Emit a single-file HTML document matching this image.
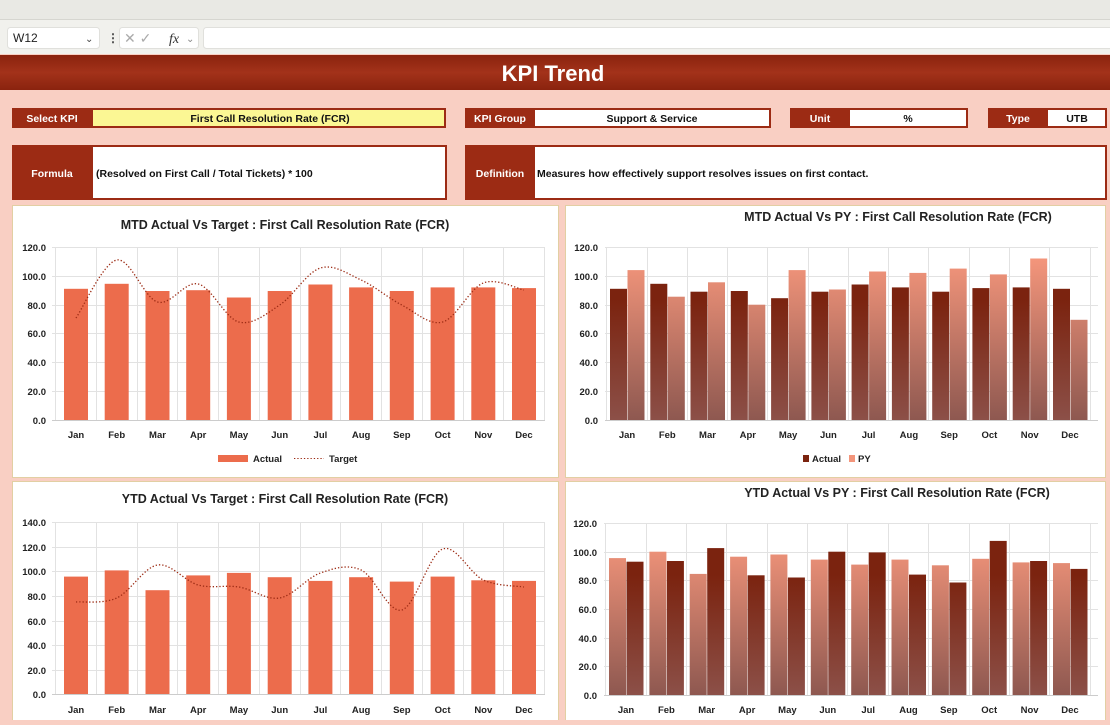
<!DOCTYPE html>
<html><head><meta charset="utf-8"><style>
body{margin:0;width:1110px;height:720px;overflow:hidden;font-family:"Liberation Sans",sans-serif;background:#f9cfc3}
</style></head><body>
<svg width="1110" height="720" xmlns="http://www.w3.org/2000/svg" font-family="Liberation Sans, sans-serif" font-weight="bold">
<defs>
<linearGradient id="tb" x1="0" y1="0" x2="0" y2="1"><stop offset="0" stop-color="#8a230e"/><stop offset="0.5" stop-color="#a3321a"/><stop offset="1" stop-color="#8a230e"/></linearGradient>
<linearGradient id="da" gradientUnits="userSpaceOnUse" x1="0" y1="300" x2="0" y2="420"><stop offset="0" stop-color="#7b230f"/><stop offset="1" stop-color="#8c5048"/></linearGradient>
<linearGradient id="pa" gradientUnits="userSpaceOnUse" x1="0" y1="260" x2="0" y2="420"><stop offset="0" stop-color="#f3957b"/><stop offset="1" stop-color="#8e5850"/></linearGradient>
<linearGradient id="db" gradientUnits="userSpaceOnUse" x1="0" y1="575" x2="0" y2="695"><stop offset="0" stop-color="#7b230f"/><stop offset="1" stop-color="#8c5048"/></linearGradient>
<linearGradient id="pb" gradientUnits="userSpaceOnUse" x1="0" y1="540" x2="0" y2="695"><stop offset="0" stop-color="#f3957b"/><stop offset="1" stop-color="#8e5850"/></linearGradient>
</defs>
<rect x="0" y="0" width="1110" height="19" fill="#e9e9e4"/>
<rect x="0" y="19" width="1110" height="35" fill="#f1f1ed"/>
<line x1="0" y1="19.5" x2="1110" y2="19.5" stroke="#d6d6d0"/>
<rect x="7.5" y="27.5" width="92" height="21" rx="3" fill="#fff" stroke="#e0e0dc"/>
<text x="13" y="42" font-size="12" font-weight="normal" fill="#222">W12</text>
<text x="85" y="42" font-size="10" font-weight="normal" fill="#444">⌄</text>
<text x="107" y="42" font-size="12" fill="#444">⋮</text>
<rect x="119.5" y="27.5" width="79" height="21" rx="3" fill="#fff" stroke="#e0e0dc"/>
<text x="124" y="43" font-size="14" font-weight="normal" fill="#aaa">✕ ✓</text>
<text x="169" y="43" font-size="14" font-style="italic" font-weight="normal" fill="#333" font-family="Liberation Serif, serif">fx</text>
<text x="186" y="42" font-size="10" font-weight="normal" fill="#888">⌄</text>
<rect x="203.5" y="27.5" width="910" height="21" rx="3" fill="#fff" stroke="#e0e0dc"/>
<rect x="0" y="55" width="1110" height="35" fill="url(#tb)"/>
<text x="553" y="81" font-size="22" fill="#fff" text-anchor="middle">KPI Trend</text>

<g font-size="10.5">
<rect x="12" y="108" width="434" height="20" fill="#9c2b14"/><rect x="93" y="110" width="351" height="16" fill="#fbf794"/>
<text x="52" y="122" fill="#fff" text-anchor="middle">Select KPI</text><text x="270" y="122" fill="#111" text-anchor="middle">First Call Resolution Rate (FCR)</text>
<rect x="465" y="108" width="306" height="20" fill="#9c2b14"/><rect x="535" y="110" width="234" height="16" fill="#fff"/>
<text x="500" y="122" fill="#fff" text-anchor="middle">KPI Group</text><text x="652" y="122" fill="#111" text-anchor="middle">Support &amp; Service</text>
<rect x="790" y="108" width="178" height="20" fill="#9c2b14"/><rect x="850" y="110" width="116" height="16" fill="#fff"/>
<text x="820" y="122" fill="#fff" text-anchor="middle">Unit</text><text x="908" y="122" fill="#111" text-anchor="middle">%</text>
<rect x="988" y="108" width="119" height="20" fill="#9c2b14"/><rect x="1048" y="110" width="57" height="16" fill="#fff"/>
<text x="1018" y="122" fill="#fff" text-anchor="middle">Type</text><text x="1077" y="122" fill="#111" text-anchor="middle">UTB</text>
<rect x="12" y="145" width="435" height="55" fill="#9c2b14"/><rect x="93" y="147" width="352" height="51" fill="#fff"/>
<text x="52" y="177" fill="#fff" text-anchor="middle">Formula</text><text x="96" y="177" fill="#111">(Resolved on First Call / Total Tickets) * 100</text>
<rect x="465" y="145" width="642" height="55" fill="#9c2b14"/><rect x="535" y="147" width="570" height="51" fill="#fff"/>
<text x="500" y="177" fill="#fff" text-anchor="middle">Definition</text><text x="537" y="177" fill="#111">Measures how effectively support resolves issues on first contact.</text>
</g>

<rect x="12.5" y="205.5" width="546" height="272" fill="#fff" stroke="#e2cfa3"/>
<rect x="565.5" y="205.5" width="540" height="272" fill="#fff" stroke="#e2cfa3"/>
<rect x="12.5" y="481.5" width="546" height="250" fill="#fff" stroke="#e2cfa3"/>
<rect x="565.5" y="481.5" width="540" height="250" fill="#fff" stroke="#e2cfa3"/>

<!-- TL -->
<text x="285" y="229" font-size="12.5" text-anchor="middle" fill="#222">MTD Actual Vs Target : First Call Resolution Rate (FCR)</text>
<g stroke="#e2e2e2" stroke-width="1">
<path d="M52 247.5H545M52 276.5H545M52 305.5H545M52 333.5H545M52 362.5H545M52 391.5H545"/>
<path d="M55.5 247V420M96.5 247V420M137.5 247V420M177.5 247V420M218.5 247V420M259.5 247V420M300.5 247V420M340.5 247V420M381.5 247V420M422.5 247V420M463.5 247V420M503.5 247V420M544.5 247V420"/>
</g>
<line x1="52" y1="420.5" x2="545" y2="420.5" stroke="#ccc"/>
<g font-size="9.5" text-anchor="end" fill="#222">
<text x="46" y="251">120.0</text><text x="46" y="280">100.0</text><text x="46" y="309">80.0</text><text x="46" y="337">60.0</text><text x="46" y="366">40.0</text><text x="46" y="395">20.0</text><text x="46" y="424">0.0</text></g>
<g fill="#ec6c4c">
<rect x="64" y="288.8" width="24" height="131.2"/><rect x="104.7" y="283.8" width="24" height="136.2"/><rect x="145.5" y="291" width="24" height="129"/><rect x="186.2" y="290.2" width="24" height="129.8"/><rect x="226.9" y="297.5" width="24" height="122.5"/><rect x="267.7" y="291" width="24" height="129"/><rect x="308.4" y="284.5" width="24" height="135.5"/><rect x="349.1" y="287.4" width="24" height="132.6"/><rect x="389.8" y="291" width="24" height="129"/><rect x="430.6" y="287.4" width="24" height="132.6"/><rect x="471.3" y="287.4" width="24" height="132.6"/><rect x="512" y="288.1" width="24" height="131.9"/></g>
<path d="M76 318C82.8 308.3 103.1 262.7 116.7 260C130.3 257.3 143.9 298 157.5 302C171.1 306 184.6 280.7 198.2 284C211.8 287.3 225.3 318.5 238.9 322C252.5 325.5 266.1 314 279.7 305C293.3 296 306.8 272.2 320.4 268C334 263.8 347.5 273.8 361.1 280C374.7 286.2 388.2 298 401.8 305C415.4 312 429 325.7 442.6 322C456.2 318.3 469.7 288.3 483.3 283C496.9 277.7 517.2 288.8 524 290" fill="none" stroke="#9c2b14" stroke-width="1.3" stroke-dasharray="1.3 2"/>
<g font-size="9.5" text-anchor="middle" fill="#222">
<text x="76" y="438">Jan</text><text x="116.7" y="438">Feb</text><text x="157.5" y="438">Mar</text><text x="198.2" y="438">Apr</text><text x="238.9" y="438">May</text><text x="279.7" y="438">Jun</text><text x="320.4" y="438">Jul</text><text x="361.1" y="438">Aug</text><text x="401.8" y="438">Sep</text><text x="442.6" y="438">Oct</text><text x="483.3" y="438">Nov</text><text x="524" y="438">Dec</text></g>
<rect x="218" y="455" width="30" height="7" fill="#ec6c4c"/><text x="253" y="462" font-size="9.5" fill="#222">Actual</text>
<line x1="294" y1="458.5" x2="324" y2="458.5" stroke="#9c2b14" stroke-dasharray="1.3 2"/><text x="329" y="462" font-size="9.5" fill="#222">Target</text>

<!-- TR -->
<text x="898" y="221" font-size="12.5" text-anchor="middle" fill="#222">MTD Actual Vs PY : First Call Resolution Rate (FCR)</text>
<g stroke="#e2e2e2">
<path d="M605 247.5H1098M605 276.5H1098M605 305.5H1098M605 333.5H1098M605 362.5H1098M605 391.5H1098"/>
<path d="M606.5 247V420M647.5 247V420M687.5 247V420M727.5 247V420M767.5 247V420M808.5 247V420M848.5 247V420M888.5 247V420M928.5 247V420M969.5 247V420M1009.5 247V420M1049.5 247V420M1090.5 247V420"/></g>
<line x1="605" y1="420.5" x2="1098" y2="420.5" stroke="#ccc"/>
<g font-size="9.5" text-anchor="end" fill="#222">
<text x="598" y="251">120.0</text><text x="598" y="280">100.0</text><text x="598" y="309">80.0</text><text x="598" y="337">60.0</text><text x="598" y="366">40.0</text><text x="598" y="395">20.0</text><text x="598" y="424">0.0</text></g>
<g fill="url(#da)">
<rect x="610" y="288.8" width="17" height="131.2"/><rect x="650.3" y="283.8" width="17" height="136.2"/><rect x="690.5" y="291.7" width="17" height="128.3"/><rect x="730.8" y="291" width="17" height="129"/><rect x="771.1" y="298.2" width="17" height="121.8"/><rect x="811.4" y="291.7" width="17" height="128.3"/><rect x="851.6" y="284.5" width="17" height="135.5"/><rect x="891.9" y="287.4" width="17" height="132.6"/><rect x="932.2" y="291.7" width="17" height="128.3"/><rect x="972.4" y="288.1" width="17" height="131.9"/><rect x="1012.7" y="287.4" width="17" height="132.6"/><rect x="1053" y="288.8" width="17" height="131.2"/></g>
<g fill="url(#pa)">
<rect x="627.5" y="270.1" width="17" height="149.9"/><rect x="667.8" y="296.7" width="17" height="123.3"/><rect x="708" y="282.3" width="17" height="137.7"/><rect x="748.3" y="304.7" width="17" height="115.3"/><rect x="788.6" y="270.1" width="17" height="149.9"/><rect x="828.9" y="289.5" width="17" height="130.5"/><rect x="869.1" y="271.5" width="17" height="148.5"/><rect x="909.4" y="272.9" width="17" height="147.1"/><rect x="949.7" y="268.6" width="17" height="151.4"/><rect x="989.9" y="274.4" width="17" height="145.6"/><rect x="1030.2" y="258.5" width="17" height="161.5"/><rect x="1070.5" y="319.8" width="17" height="100.2"/></g>
<g font-size="9.5" text-anchor="middle" fill="#222">
<text x="627" y="438">Jan</text><text x="667.3" y="438">Feb</text><text x="707.5" y="438">Mar</text><text x="747.8" y="438">Apr</text><text x="788.1" y="438">May</text><text x="828.4" y="438">Jun</text><text x="868.6" y="438">Jul</text><text x="908.9" y="438">Aug</text><text x="949.2" y="438">Sep</text><text x="989.4" y="438">Oct</text><text x="1029.7" y="438">Nov</text><text x="1070" y="438">Dec</text></g>
<rect x="803" y="455" width="6" height="7" fill="#7b230f"/><text x="812" y="462" font-size="9.5" fill="#222">Actual</text>
<rect x="849" y="455" width="6" height="7" fill="#f3957b"/><text x="858" y="462" font-size="9.5" fill="#222">PY</text>

<!-- BL -->
<text x="285" y="503" font-size="12.5" text-anchor="middle" fill="#222">YTD Actual Vs Target : First Call Resolution Rate (FCR)</text>
<g stroke="#e2e2e2">
<path d="M52 522.5H545M52 547.5H545M52 571.5H545M52 596.5H545M52 621.5H545M52 645.5H545M52 670.5H545"/>
<path d="M55.5 522V694M96.5 522V694M137.5 522V694M177.5 522V694M218.5 522V694M259.5 522V694M300.5 522V694M340.5 522V694M381.5 522V694M422.5 522V694M463.5 522V694M503.5 522V694M544.5 522V694"/></g>
<line x1="52" y1="694.5" x2="545" y2="694.5" stroke="#ccc"/>
<g font-size="9.5" text-anchor="end" fill="#222">
<text x="46" y="526">140.0</text><text x="46" y="551">120.0</text><text x="46" y="575">100.0</text><text x="46" y="600">80.0</text><text x="46" y="625">60.0</text><text x="46" y="649">40.0</text><text x="46" y="674">20.0</text><text x="46" y="698">0.0</text></g>
<g fill="#ec6c4c">
<rect x="64" y="576.6" width="24" height="117.4"/><rect x="104.7" y="570.4" width="24" height="123.6"/><rect x="145.5" y="590.2" width="24" height="103.8"/><rect x="186.2" y="575.4" width="24" height="118.6"/><rect x="226.9" y="572.9" width="24" height="121.1"/><rect x="267.7" y="577.2" width="24" height="116.8"/><rect x="308.4" y="580.9" width="24" height="113.1"/><rect x="349.1" y="577.2" width="24" height="116.8"/><rect x="389.8" y="581.6" width="24" height="112.4"/><rect x="430.6" y="576.6" width="24" height="117.4"/><rect x="471.3" y="580.3" width="24" height="113.7"/><rect x="512" y="580.9" width="24" height="113.1"/></g>
<path d="M76 602C82.8 601.3 103.1 604.2 116.7 598C130.3 591.8 143.9 567.2 157.5 565C171.1 562.8 184.6 581.3 198.2 585C211.8 588.7 225.3 584.8 238.9 587C252.5 589.2 266.1 600.3 279.7 598C293.3 595.7 306.8 577.7 320.4 573C334 568.3 347.5 563.8 361.1 570C374.7 576.2 388.2 613.5 401.8 610C415.4 606.5 429 554 442.6 549C456.2 544 469.7 573.7 483.3 580C496.9 586.3 517.2 585.8 524 587" fill="none" stroke="#9c2b14" stroke-width="1.3" stroke-dasharray="1.3 2"/>
<g font-size="9.5" text-anchor="middle" fill="#222">
<text x="76" y="713">Jan</text><text x="116.7" y="713">Feb</text><text x="157.5" y="713">Mar</text><text x="198.2" y="713">Apr</text><text x="238.9" y="713">May</text><text x="279.7" y="713">Jun</text><text x="320.4" y="713">Jul</text><text x="361.1" y="713">Aug</text><text x="401.8" y="713">Sep</text><text x="442.6" y="713">Oct</text><text x="483.3" y="713">Nov</text><text x="524" y="713">Dec</text></g>

<!-- BR -->
<text x="897" y="497" font-size="12.5" text-anchor="middle" fill="#222">YTD Actual Vs PY : First Call Resolution Rate (FCR)</text>
<g stroke="#e2e2e2">
<path d="M604 523.5H1098M604 552.5H1098M604 580.5H1098M604 609.5H1098M604 638.5H1098M604 666.5H1098"/>
<path d="M605.5 523V695M646.5 523V695M686.5 523V695M726.5 523V695M767.5 523V695M807.5 523V695M847.5 523V695M888.5 523V695M928.5 523V695M969.5 523V695M1009.5 523V695M1049.5 523V695M1090.5 523V695"/></g>
<line x1="604" y1="695.5" x2="1098" y2="695.5" stroke="#ccc"/>
<g font-size="9.5" text-anchor="end" fill="#222">
<text x="597" y="527">120.0</text><text x="597" y="556">100.0</text><text x="597" y="584">80.0</text><text x="597" y="613">60.0</text><text x="597" y="642">40.0</text><text x="597" y="670">20.0</text><text x="597" y="699">0.0</text></g>
<g fill="url(#pb)">
<rect x="609" y="558.1" width="17" height="136.9"/><rect x="649.4" y="551.7" width="17" height="143.3"/><rect x="689.7" y="573.9" width="17" height="121.1"/><rect x="730.1" y="556.7" width="17" height="138.3"/><rect x="770.4" y="554.5" width="17" height="140.5"/><rect x="810.8" y="559.6" width="17" height="135.4"/><rect x="851.2" y="564.6" width="17" height="130.4"/><rect x="891.5" y="559.6" width="17" height="135.4"/><rect x="931.9" y="565.3" width="17" height="129.7"/><rect x="972.2" y="558.8" width="17" height="136.2"/><rect x="1012.6" y="562.4" width="17" height="132.6"/><rect x="1053" y="563.1" width="17" height="131.9"/></g>
<g fill="url(#db)">
<rect x="626.5" y="561.7" width="17" height="133.3"/><rect x="666.9" y="561" width="17" height="134"/><rect x="707.2" y="548.1" width="17" height="146.9"/><rect x="747.6" y="575.3" width="17" height="119.7"/><rect x="787.9" y="577.5" width="17" height="117.5"/><rect x="828.3" y="551.7" width="17" height="143.3"/><rect x="868.7" y="552.4" width="17" height="142.6"/><rect x="909" y="574.6" width="17" height="120.4"/><rect x="949.4" y="582.5" width="17" height="112.5"/><rect x="989.7" y="540.9" width="17" height="154.1"/><rect x="1030.1" y="561" width="17" height="134"/><rect x="1070.5" y="568.9" width="17" height="126.1"/></g>
<g font-size="9.5" text-anchor="middle" fill="#222">
<text x="626" y="713">Jan</text><text x="666.4" y="713">Feb</text><text x="706.7" y="713">Mar</text><text x="747.1" y="713">Apr</text><text x="787.4" y="713">May</text><text x="827.8" y="713">Jun</text><text x="868.2" y="713">Jul</text><text x="908.5" y="713">Aug</text><text x="948.9" y="713">Sep</text><text x="989.2" y="713">Oct</text><text x="1029.6" y="713">Nov</text><text x="1070" y="713">Dec</text></g>
</svg>
</body></html>
